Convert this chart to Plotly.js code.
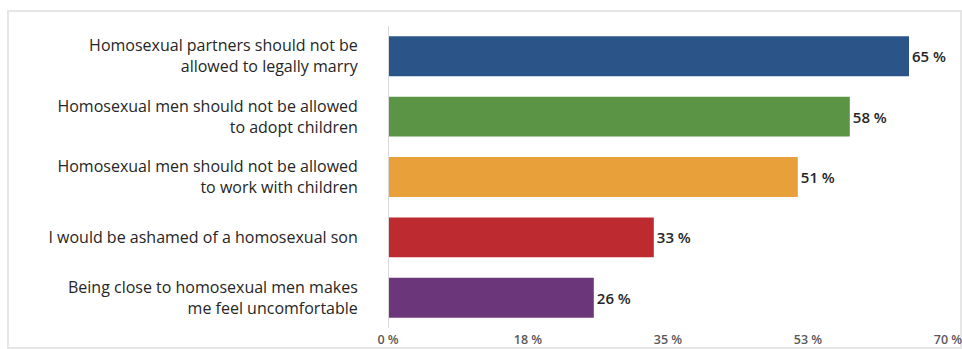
<!DOCTYPE html>
<html>
<head>
<meta charset="utf-8">
<script src="https://cdn.plot.ly/plotly-3.0.1.min.js"></script>
<style>
html,body{margin:0;padding:0;background:#fff;overflow:hidden;}
#wrap{position:relative;width:962px;height:349px;background:#fff;}
#frame{position:absolute;left:7px;top:10px;width:951px;height:335px;border:2px solid #e6e6e6;z-index:0;}
#chart{position:absolute;left:0;top:0;width:962px;height:349px;z-index:1;}
</style>
</head>
<body>
<div id="wrap"><div id="frame"></div><div id="chart"></div></div>
<script>
const categories = [
  "Homosexual partners should not be<br>allowed to legally marry",
  "Homosexual men should not be allowed<br>to adopt children",
  "Homosexual men should not be allowed<br>to work with children",
  "I would be ashamed of a homosexual son",
  "Being close to homosexual men makes<br>me feel uncomfortable"
];
const values = [65, 57.6, 51.1, 33.1, 25.6];
const valueLabels = ["65 %", "58 %", "51 %", "33 %", "26 %"];
const barColors = ["#2b5488", "#5b9445", "#e8a13a", "#bd2a30", "#6c377a"];
const tickVals = [0, 17.5, 35, 52.5, 70];
const tickText = ["0 %", "18 %", "35 %", "53 %", "70 %"];

const trace = {
  type: "bar",
  orientation: "h",
  y: categories,
  x: values,
  text: valueLabels,
  textposition: "outside",
  cliponaxis: false,
  textfont: {family: "Open Sans", size: 15, color: "#262626", weight: 600},
  marker: {color: barColors},
  width: 0.66,
  hoverinfo: "none"
};

const layout = {
  width: 962, height: 349,
  margin: {l: 389, r: 13, t: 26, b: 21, pad: 0},
  paper_bgcolor: "rgba(0,0,0,0)",
  plot_bgcolor: "rgba(0,0,0,0)",
  showlegend: false,
  font: {family: "Open Sans", color: "#262626"},
  xaxis: {
    range: [0, 70],
    tickvals: tickVals,
    ticktext: tickText,
    showgrid: false,
    zeroline: false,
    showline: false,
    ticks: "",
    ticklabeloverflow: "allow",
    ticklabelshift: -1,
    tickfont: {family: "Open Sans", size: 12.5, color: "#595959", weight: 600},
    ticklabelstandoff: 2
  },
  yaxis: {
    autorange: "reversed",
    showgrid: false,
    zeroline: false,
    showline: true,
    linecolor: "#d9d9d9",
    linewidth: 1,
    ticks: "",
    ticklabelstandoff: 27,
    tickfont: {family: "Open Sans", size: 16, color: "#262626"}
  }
};

Plotly.newPlot("chart", [trace], layout, {staticPlot: true, displayModeBar: false});
</script>
</body>
</html>
